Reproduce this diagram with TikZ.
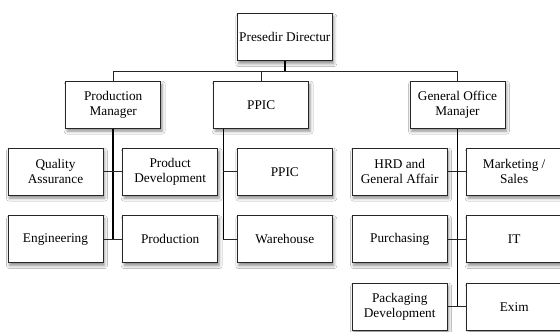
\documentclass[tikz,border=0pt]{standalone}
\usepackage{fontspec}
\setmainfont{Liberation Serif}
\usetikzlibrary{calc,shadows.blur}

\begin{document}
\begin{tikzpicture}[x=1pt,y=-1pt,
  unit/.style={draw=black!85,line width=0.8pt,fill=white,
    minimum width=95pt,minimum height=47pt,inner sep=0pt,align=center,
    font=\fontsize{13.3}{14.6}\selectfont,
    blur shadow={shadow xshift=1.5pt,shadow yshift=-3pt,
      shadow blur radius=3pt,shadow opacity=45}},
  branch/.style={draw=black!85,line width=0.8pt},
  spine/.style={draw=black,line width=1.6pt}]

  % page and its edges
  \fill[white] (0,0) rectangle (560,332);
  \clip (0,0) rectangle (560,332);

  % head of the company
  \node[unit] (top) at (284.8,37.2) {Presedir Directur};

  % second level
  \node[unit] (pm)   at (113.2,104.7) {Production\\Manager};
  \node[unit] (ppic) at (261.2,104.7) {PPIC};
  \node[unit] (gom)  at (457.5,104.7) {General Office\\Manajer};

  % production departments
  \node[unit] (qa)   at (55.5,171.7)  {Quality\\Assurance};
  \node[unit] (pd)   at (170.2,171.7) {Product\\Development};
  \node[unit] (eng)  at (55.5,239.2)  {Engineering};
  \node[unit] (prod) at (170.2,239.2) {Production};

  % planning departments
  \node[unit] (ppicb) at (284.8,171.7) {PPIC};
  \node[unit] (wh)    at (284.8,239.2) {Warehouse};

  % general office departments
  \node[unit] (hrd)  at (399.7,171.7) {HRD and\\General Affair};
  \node[unit] (mkt)  at (514.2,171.7) {Marketing /\\Sales};
  \node[unit] (pur)  at (399.7,239.2) {Purchasing};
  \node[unit] (it)   at (514.2,239.2) {IT};
  \node[unit] (pack) at (399.7,306.7) {Packaging\\Development};
  \node[unit] (exim) at (514.2,306.7) {Exim};

  % bus between the head and the second level
  \coordinate (bus) at ($(top.south)!0.5!(ppic.north)$);
  \draw[branch] (pm.north) |- (bus) -| (gom.north);
  \draw[branch] (ppic.north) -- (ppic.north |- bus);
  \draw[spine] (top.south) -- (top.south |- bus);

  % production spine
  \draw[spine] (pm.south) -- (pm.south |- eng.east);
  \draw[branch] (qa.east) -- (pd.west);
  \draw[branch] (eng.east) -- (prod.west);

  % planning spine
  \coordinate (ps) at ($(ppic.south west)+(10,0)$);
  \draw[spine] (ps) -- (ps |- wh.west);
  \draw[branch] (ps |- ppicb.west) -- (ppicb.west);
  \draw[branch] (ps |- wh.west) -- (wh.west);

  % general office spine
  \draw[spine] (gom.south) -- (gom.south |- pack.east);
  \draw[branch] (hrd.east) -- (mkt.west);
  \draw[branch] (pur.east) -- (it.west);
  \draw[branch] (pack.east) -- (exim.west);
\end{tikzpicture}
\end{document}
